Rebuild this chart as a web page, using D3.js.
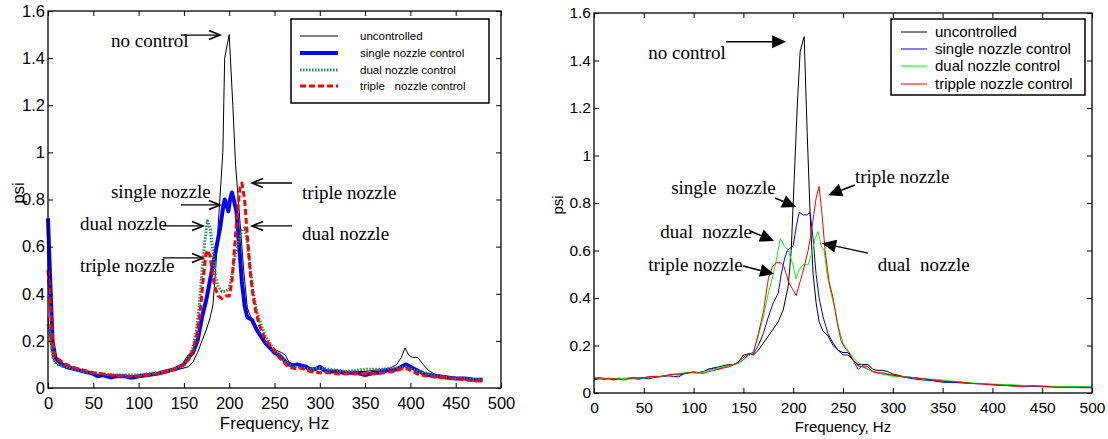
<!DOCTYPE html>
<html>
<head>
<meta charset="utf-8">
<script src="https://cdn.jsdelivr.net/npm/d3@7"></script>
<style>
    body { margin: 0; background: #fff; }
    svg { display: block; }
</style>
</head>
<body>
<div id="chart"></div>
<script>
// ---- data (frequency Hz, psi) ----
const freq_ticks = [0, 50, 100, 150, 200, 250, 300, 350, 400, 450, 500];
const psi_ticks = [0, 0.2, 0.4, 0.6, 0.8, 1, 1.2, 1.4, 1.6];

// left panel
const left_uncontrolled = [[0,0.30],[3,0.18],[6,0.12],[10,0.10],[15,0.09],[20,0.085],[30,0.075],[40,0.07],[50,0.06],[60,0.055],[70,0.05],[80,0.05],[90,0.05],[100,0.055],[110,0.06],[120,0.065],[130,0.07],[140,0.075],[145,0.08],[150,0.085],[155,0.09],[160,0.11],[165,0.15],[170,0.2],[175,0.25],[179,0.3],[182,0.35],[185,0.5],[188,0.7],[191,0.88],[193,1.0],[195,1.4],[200,1.5],[204,1.2],[207,0.95],[212,0.7],[216,0.5],[220,0.34],[224,0.3],[228,0.26],[234,0.22],[240,0.2],[246,0.17],[252,0.16],[258,0.15],[262,0.14],[266,0.11],[272,0.1],[278,0.1],[285,0.09],[292,0.085],[300,0.08],[310,0.075],[320,0.075],[330,0.07],[340,0.07],[350,0.07],[360,0.075],[370,0.08],[378,0.085],[385,0.1],[390,0.13],[394,0.17],[398,0.14],[402,0.13],[408,0.13],[414,0.1],[420,0.075],[426,0.06],[432,0.055],[440,0.05],[450,0.045],[460,0.04],[470,0.04],[480,0.035]];
const left_single = [[0,0.72],[2,0.5],[5,0.2],[8,0.13],[12,0.11],[16,0.1],[20,0.09],[25,0.085],[30,0.08],[35,0.075],[40,0.07],[45,0.065],[50,0.06],[55,0.05],[60,0.055],[65,0.05],[70,0.045],[75,0.05],[80,0.05],[85,0.05],[90,0.045],[95,0.045],[100,0.05],[110,0.055],[120,0.06],[130,0.07],[140,0.08],[145,0.09],[150,0.1],[155,0.13],[160,0.15],[165,0.2],[170,0.3],[175,0.38],[180,0.48],[185,0.58],[190,0.68],[193,0.76],[195,0.8],[197,0.78],[199,0.75],[201,0.8],[203,0.83],[205,0.8],[208,0.75],[211,0.6],[214,0.45],[217,0.35],[220,0.3],[225,0.29],[230,0.25],[235,0.22],[240,0.19],[245,0.17],[250,0.15],[255,0.14],[260,0.12],[265,0.1],[270,0.095],[275,0.1],[280,0.095],[285,0.09],[290,0.075],[295,0.08],[300,0.09],[305,0.075],[310,0.07],[320,0.07],[325,0.065],[330,0.065],[340,0.065],[345,0.06],[350,0.055],[355,0.06],[360,0.065],[365,0.065],[370,0.07],[375,0.075],[380,0.075],[385,0.08],[390,0.09],[395,0.1],[400,0.09],[405,0.08],[410,0.07],[415,0.06],[420,0.055],[430,0.05],[440,0.045],[450,0.04],[460,0.04],[470,0.035],[480,0.035]];
const left_dual = [[0,0.27],[3,0.2],[6,0.12],[10,0.1],[15,0.095],[20,0.09],[30,0.08],[40,0.07],[50,0.065],[60,0.06],[70,0.055],[80,0.055],[90,0.055],[100,0.055],[110,0.06],[120,0.065],[130,0.07],[140,0.08],[150,0.1],[155,0.13],[160,0.17],[164,0.25],[167,0.35],[170,0.5],[173,0.62],[176,0.71],[179,0.68],[182,0.58],[185,0.47],[188,0.43],[192,0.41],[196,0.41],[200,0.42],[203,0.48],[206,0.55],[210,0.62],[214,0.67],[217,0.68],[220,0.62],[223,0.52],[226,0.42],[230,0.33],[235,0.27],[240,0.22],[245,0.19],[250,0.16],[255,0.14],[260,0.12],[265,0.1],[270,0.09],[275,0.09],[280,0.085],[290,0.08],[300,0.085],[310,0.08],[320,0.075],[330,0.07],[340,0.075],[350,0.08],[360,0.08],[370,0.08],[380,0.085],[390,0.085],[395,0.09],[400,0.08],[410,0.07],[420,0.06],[430,0.05],[440,0.045],[450,0.04],[460,0.04],[470,0.035],[480,0.035]];
const left_triple = [[0,0.5],[2,0.4],[5,0.2],[8,0.13],[12,0.12],[16,0.11],[20,0.1],[30,0.085],[40,0.075],[50,0.065],[60,0.06],[70,0.055],[80,0.05],[90,0.05],[100,0.05],[110,0.055],[120,0.06],[130,0.07],[140,0.08],[150,0.1],[155,0.12],[160,0.16],[164,0.22],[168,0.32],[171,0.45],[174,0.56],[176,0.585],[179,0.56],[182,0.47],[185,0.42],[188,0.39],[192,0.38],[196,0.39],[200,0.39],[203,0.45],[206,0.6],[209,0.75],[212,0.85],[214,0.87],[217,0.8],[220,0.65],[223,0.5],[226,0.4],[229,0.33],[233,0.27],[238,0.22],[243,0.19],[250,0.16],[255,0.13],[260,0.11],[265,0.09],[270,0.085],[275,0.08],[280,0.085],[285,0.075],[290,0.07],[300,0.065],[310,0.065],[320,0.06],[330,0.06],[340,0.06],[350,0.06],[360,0.06],[370,0.065],[380,0.07],[390,0.08],[395,0.085],[400,0.075],[405,0.065],[410,0.055],[420,0.05],[430,0.045],[440,0.045],[450,0.04],[460,0.035],[470,0.03],[480,0.03]];

// right panel
const right_uncontrolled = [[0,0.06],[5,0.062],[10,0.06],[15,0.062],[20,0.058],[25,0.062],[30,0.06],[35,0.063],[40,0.065],[45,0.063],[50,0.065],[55,0.067],[60,0.07],[65,0.068],[70,0.072],[75,0.075],[80,0.078],[85,0.076],[90,0.082],[95,0.085],[100,0.088],[105,0.086],[110,0.09],[115,0.1],[120,0.105],[125,0.11],[130,0.115],[135,0.12],[140,0.12],[145,0.13],[150,0.16],[155,0.165],[160,0.16],[165,0.18],[170,0.21],[175,0.24],[180,0.27],[185,0.3],[190,0.35],[195,0.45],[198,0.6],[201,0.9],[204,1.2],[207,1.44],[211,1.5],[214,1.1],[217,0.75],[220,0.5],[223,0.38],[226,0.3],[230,0.26],[235,0.24],[240,0.2],[245,0.18],[250,0.17],[255,0.17],[260,0.14],[265,0.12],[270,0.12],[275,0.12],[280,0.1],[285,0.095],[290,0.095],[295,0.09],[300,0.08],[310,0.07],[320,0.065],[330,0.06],[340,0.055],[350,0.05],[360,0.045],[370,0.045],[380,0.04],[390,0.04],[400,0.035],[410,0.033],[420,0.032],[430,0.03],[440,0.03],[450,0.028],[460,0.027],[470,0.026],[480,0.025],[490,0.025],[500,0.024]];
const right_single = [[0,0.055],[5,0.06],[10,0.058],[15,0.06],[20,0.055],[25,0.06],[30,0.062],[35,0.06],[40,0.06],[45,0.058],[50,0.062],[55,0.06],[60,0.065],[65,0.068],[70,0.07],[75,0.072],[80,0.07],[85,0.068],[90,0.08],[95,0.085],[100,0.088],[105,0.085],[110,0.09],[115,0.1],[120,0.105],[125,0.1],[130,0.11],[135,0.115],[140,0.12],[145,0.125],[150,0.14],[155,0.16],[160,0.165],[165,0.2],[170,0.25],[175,0.32],[180,0.38],[185,0.42],[188,0.5],[191,0.56],[194,0.6],[197,0.61],[200,0.62],[203,0.7],[206,0.76],[210,0.75],[214,0.75],[217,0.76],[220,0.65],[223,0.5],[226,0.4],[230,0.32],[235,0.25],[240,0.21],[245,0.18],[250,0.16],[255,0.16],[260,0.14],[265,0.115],[270,0.11],[275,0.1],[280,0.09],[285,0.085],[290,0.08],[300,0.075],[310,0.068],[320,0.06],[330,0.055],[340,0.052],[350,0.045],[360,0.045],[370,0.042],[380,0.04],[390,0.038],[400,0.035],[410,0.032],[420,0.03],[430,0.03],[440,0.028],[450,0.027],[460,0.026],[470,0.025],[480,0.024],[490,0.025],[500,0.024]];
const right_dual = [[0,0.065],[5,0.063],[10,0.06],[15,0.062],[20,0.06],[25,0.062],[30,0.06],[35,0.063],[40,0.062],[45,0.065],[50,0.063],[55,0.066],[60,0.07],[65,0.068],[70,0.072],[75,0.075],[80,0.077],[85,0.08],[90,0.085],[95,0.088],[100,0.086],[105,0.085],[110,0.088],[115,0.095],[120,0.1],[125,0.105],[130,0.11],[135,0.115],[140,0.12],[145,0.125],[150,0.14],[155,0.155],[160,0.17],[165,0.24],[170,0.32],[175,0.42],[180,0.5],[184,0.58],[187,0.65],[191,0.62],[195,0.6],[199,0.55],[203,0.48],[206,0.52],[210,0.54],[215,0.54],[218,0.58],[222,0.65],[225,0.68],[228,0.62],[231,0.6],[234,0.5],[238,0.42],[242,0.35],[246,0.27],[250,0.21],[255,0.18],[260,0.15],[265,0.13],[270,0.115],[275,0.1],[280,0.09],[285,0.085],[290,0.08],[295,0.075],[300,0.07],[310,0.07],[320,0.065],[330,0.06],[340,0.058],[350,0.055],[360,0.05],[370,0.045],[380,0.042],[390,0.04],[400,0.038],[410,0.036],[420,0.035],[430,0.032],[440,0.03],[450,0.03],[460,0.028],[470,0.027],[480,0.026],[490,0.026],[500,0.025]];
const right_triple = [[0,0.06],[5,0.065],[10,0.062],[15,0.06],[20,0.06],[25,0.058],[30,0.055],[35,0.06],[40,0.065],[45,0.063],[50,0.065],[55,0.068],[60,0.07],[65,0.07],[70,0.072],[75,0.076],[80,0.08],[85,0.08],[90,0.082],[95,0.085],[100,0.085],[105,0.085],[110,0.082],[115,0.09],[120,0.095],[125,0.1],[130,0.105],[135,0.11],[140,0.118],[145,0.13],[150,0.15],[155,0.165],[160,0.17],[165,0.25],[170,0.34],[175,0.48],[179,0.53],[183,0.55],[187,0.55],[191,0.53],[195,0.47],[199,0.44],[203,0.41],[207,0.47],[211,0.53],[215,0.6],[219,0.7],[223,0.82],[226,0.87],[229,0.75],[232,0.6],[236,0.47],[240,0.4],[244,0.3],[248,0.22],[252,0.19],[256,0.17],[260,0.14],[265,0.1],[270,0.115],[275,0.11],[280,0.09],[285,0.085],[290,0.085],[295,0.08],[300,0.075],[310,0.068],[320,0.065],[330,0.06],[340,0.055],[350,0.05],[360,0.048],[370,0.045],[380,0.04],[390,0.038],[400,0.035],[410,0.033],[420,0.03],[430,0.028],[440,0.03],[450,0.028],[460,0.025],[470,0.024],[480,0.023],[490,0.022],[500,0.022]];

const left_labels = ["uncontrolled", "single nozzle control", "dual nozzle control", "triple   nozzle control"];
const right_labels = ["uncontrolled", "single nozzle control", "dual nozzle control", "tripple nozzle control"];

// annotations: text anchor point and arrow (tail -> tip), in data units
const left_notes = [
    { text: "no control", tx: 69.5, ty: 1.447, a: [146.8, 1.498, 189.8, 1.498] },
    { text: "single nozzle", tx: 69.5, ty: 0.806, a: [146.8, 0.777, 189.8, 0.777] },
    { text: "triple nozzle", tx: 280.4, ty: 0.802, a: [269.3, 0.87, 225.2, 0.87] },
    { text: "dual nozzle", tx: 35.3, ty: 0.671, a: [126.9, 0.688, 171.1, 0.688] },
    { text: "dual nozzle", tx: 280.4, ty: 0.628, a: [269.3, 0.688, 225.2, 0.688] },
    { text: "triple nozzle", tx: 35.3, ty: 0.492, a: [126.9, 0.552, 171.1, 0.552] },
];
const right_notes = [
    { text: "no control", tx: 54.5, ty: 1.407, a: [132.7, 1.479, 192.9, 1.479] },
    { text: "single  nozzle", tx: 77.5, ty: 0.838, a: [181.8, 0.821, 203, 0.783] },
    { text: "dual  nozzle", tx: 66.5, ty: 0.652, a: [156.8, 0.682, 180.8, 0.64] },
    { text: "triple nozzle", tx: 54.5, ty: 0.513, a: [149.8, 0.535, 180.8, 0.501] },
    { text: "triple nozzle", tx: 262, ty: 0.884, a: [262, 0.876, 235, 0.833] },
    { text: "dual  nozzle", tx: 285, ty: 0.513, a: [275, 0.589, 229, 0.631] },
];

// ---- layout / styles ----
const panels = [
    {
        box: { left: 48, right: 501, top: 11, bottom: 388 },
        series: [left_uncontrolled, left_single, left_dual, left_triple],
        styles: [
            { color: "#000", width: 1, dash: null },
            { color: "#0000ff", width: 4, dash: null },
            { color: "#2e8b57", width: 3, dash: "1.5,1.5" },
            { color: "#ff0000", width: 3, dash: "6,3" },
        ],
        labels: left_labels,
        legend: { x: 291, y: 19, w: 198, h: 84, line_x1: 300, line_x2: 338, text_x: 360, rows: [36, 53, 70, 86], font: 11.5 },
        notes: left_notes,
        arrow: "open",
        tick_font: 16.5,
        title_font: 17,
        xlabel_y: 429,
        psi: [18, 193],
    },
    {
        box: { left: 594, right: 1092, top: 13, bottom: 393 },
        series: [right_uncontrolled, right_single, right_dual, right_triple],
        styles: [
            { color: "#000", width: 1, dash: null },
            { color: "#0000ff", width: 1, dash: null },
            { color: "#00ff00", width: 1, dash: null },
            { color: "#ff0000", width: 1, dash: null },
        ],
        labels: right_labels,
        legend: { x: 891, y: 19, w: 194, h: 76, line_x1: 901, line_x2: 927, text_x: 935, rows: [32, 49, 66, 84], font: 15 },
        notes: right_notes,
        arrow: "filled",
        tick_font: 15.5,
        title_font: 15,
        xlabel_y: 432,
        psi: [558, 205],
    },
];

const svg = d3
    .select("#chart")
    .append("svg")
    .attr("width", 1108)
    .attr("height", 439);

const sans = "Arial, 'Liberation Sans', Helvetica, sans-serif";
const serif = "'Times New Roman', 'Liberation Serif', serif";

const fmt = (d) => String(+d.toFixed(1));

const draw_arrow = (g, x1, y1, x2, y2, kind) => {
    const ang = Math.atan2(y2 - y1, x2 - x1);
    if (kind == "open") {
        const L = 11, W = 4.5;
        const bx = x2 - L * Math.cos(ang), by = y2 - L * Math.sin(ang);
        const px = -Math.sin(ang) * W, py = Math.cos(ang) * W;
        g.append("line")
            .attr("x1", x1).attr("y1", y1).attr("x2", x2).attr("y2", y2)
            .attr("stroke", "#000").attr("stroke-width", 1.3);
        g.append("path")
            .attr("d", `M${bx + px},${by + py}L${x2},${y2}L${bx - px},${by - py}`)
            .attr("fill", "none").attr("stroke", "#000").attr("stroke-width", 1.6);
    } else {
        const L = 14, W = 6.5;
        const bx = x2 - L * Math.cos(ang), by = y2 - L * Math.sin(ang);
        const px = -Math.sin(ang) * W, py = Math.cos(ang) * W;
        g.append("line")
            .attr("x1", x1).attr("y1", y1).attr("x2", bx).attr("y2", by)
            .attr("stroke", "#000").attr("stroke-width", 1.5);
        g.append("path")
            .attr("d", `M${bx + px},${by + py}L${x2},${y2}L${bx - px},${by - py}Z`)
            .attr("fill", "#000");
    }
};

const draw_panel = (p) => {
    const b = p.box;
    const x = d3.scaleLinear().domain([0, 500]).range([b.left, b.right]);
    const y = d3.scaleLinear().domain([0, 1.6]).range([b.bottom, b.top]);
    const g = svg.append("g");

    const axis_style = (sel) => {
        sel.select(".domain").remove();
        sel.selectAll("line").attr("stroke", "#000").attr("stroke-width", 1);
        sel.selectAll("text")
            .attr("fill", "#000")
            .attr("font-family", sans)
            .attr("font-size", p.tick_font);
    };

    g.append("g")
        .attr("transform", `translate(0,${b.bottom})`)
        .call(d3.axisBottom(x).tickValues(freq_ticks).tickFormat(fmt).tickSizeInner(-5).tickSizeOuter(0).tickPadding(9))
        .call(axis_style);
    g.append("g")
        .attr("transform", `translate(0,${b.top})`)
        .call(d3.axisTop(x).tickValues(freq_ticks).tickFormat("").tickSizeInner(-5).tickSizeOuter(0))
        .call(axis_style);
    g.append("g")
        .attr("transform", `translate(${b.left},0)`)
        .call(d3.axisLeft(y).tickValues(psi_ticks).tickFormat(fmt).tickSizeInner(-5).tickSizeOuter(0).tickPadding(3))
        .call(axis_style);
    g.append("g")
        .attr("transform", `translate(${b.right},0)`)
        .call(d3.axisRight(y).tickValues(psi_ticks).tickFormat("").tickSizeInner(-5).tickSizeOuter(0))
        .call(axis_style);

    const line = d3.line().x((d) => x(d[0])).y((d) => y(d[1]));

    g.selectAll("path.series")
        .data(p.series)
        .join("path")
        .attr("class", "series")
        .attr("d", line)
        .attr("fill", "none")
        .attr("stroke", (d, i) => p.styles[i].color)
        .attr("stroke-width", (d, i) => p.styles[i].width)
        .attr("stroke-dasharray", (d, i) => p.styles[i].dash)
        .attr("stroke-linejoin", "round");

    g.append("rect")
        .attr("x", b.left).attr("y", b.top)
        .attr("width", b.right - b.left).attr("height", b.bottom - b.top)
        .attr("fill", "none").attr("stroke", "#000").attr("stroke-width", 1.3);

    // axis titles
    g.append("text")
        .attr("x", (b.left + b.right) / 2)
        .attr("y", p.xlabel_y)
        .attr("text-anchor", "middle")
        .attr("font-family", sans)
        .attr("font-size", p.title_font)
        .text("Frequency, Hz");
    g.append("text")
        .attr("transform", `translate(${p.psi[0]},${p.psi[1]}) rotate(-90)`)
        .attr("text-anchor", "middle")
        .attr("dy", "0.35em")
        .attr("font-family", sans)
        .attr("font-size", p.title_font)
        .text("psi");

    // annotations
    const ann = g.append("g");
    p.notes.forEach((n) => {
        ann.append("text")
            .attr("x", x(n.tx))
            .attr("y", y(n.ty))
            .attr("font-family", serif)
            .attr("font-size", 19)
            .style("white-space", "pre")
            .text(n.text);
        draw_arrow(ann, x(n.a[0]), y(n.a[1]), x(n.a[2]), y(n.a[3]), p.arrow);
    });

    // legend
    const lg = p.legend;
    const leg = g.append("g");
    leg.append("rect")
        .attr("x", lg.x).attr("y", lg.y)
        .attr("width", lg.w).attr("height", lg.h)
        .attr("fill", "#fff").attr("stroke", "#000").attr("stroke-width", 1.5);
    p.labels.forEach((lab, i) => {
        const st = p.styles[i];
        leg.append("line")
            .attr("x1", lg.line_x1).attr("x2", lg.line_x2)
            .attr("y1", lg.rows[i]).attr("y2", lg.rows[i])
            .attr("stroke", st.color)
            .attr("stroke-width", st.width)
            .attr("stroke-dasharray", st.dash);
        leg.append("text")
            .attr("x", lg.text_x)
            .attr("y", lg.rows[i])
            .attr("dy", "0.35em")
            .attr("font-family", sans)
            .attr("font-size", lg.font)
            .style("white-space", "pre")
            .text(lab);
    });
};

panels.forEach((p) => draw_panel(p));
</script>
</body>
</html>
